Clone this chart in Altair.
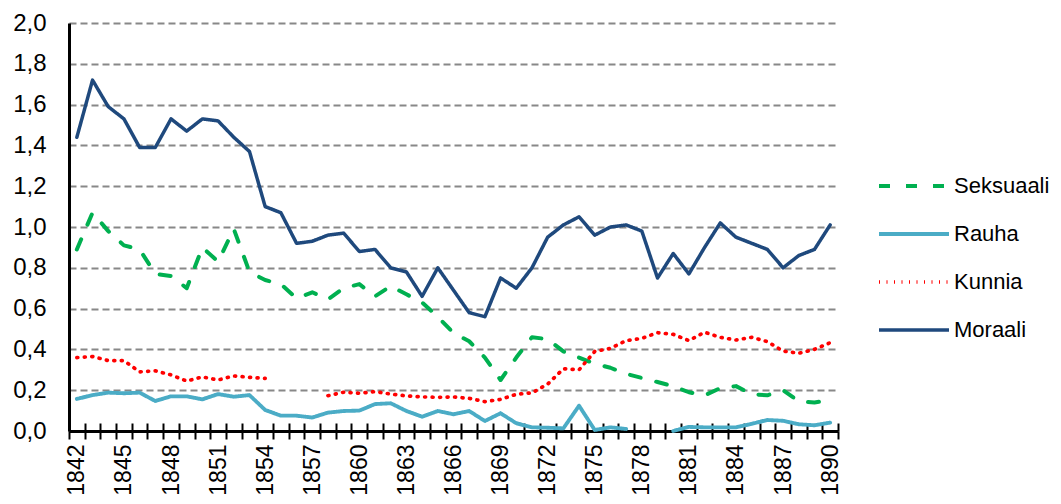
import altair as alt
import pandas as pd

years = list(range(1842, 1891))
series_names = ["Seksuaali", "Rauha", "Kunnia", "Moraali"]
series_colors = ["#00B050", "#4BACC6", "#FF0000", "#1F497D"]

seksuaali = [0.89, 1.07, 0.98, 0.91, 0.89, 0.77, 0.76, 0.70, 0.90, 0.83,
             0.99, 0.78, 0.74, 0.72, 0.65, 0.68, 0.645, 0.70, 0.72, 0.66,
             0.71, 0.67, 0.63, 0.56, 0.48, 0.44, 0.36, 0.25, 0.36, 0.46,
             0.45, 0.39, 0.36, 0.33, 0.31, 0.28, 0.26, 0.24, 0.22, 0.19,
             0.175, 0.21, 0.22, 0.18, 0.175, 0.20, 0.145, 0.14, 0.15]
rauha = [0.157, 0.176, 0.188, 0.185, 0.188, 0.147, 0.170, 0.170, 0.155, 0.181,
         0.168, 0.176, 0.103, 0.075, 0.075, 0.066, 0.090, 0.098, 0.100, 0.132,
         0.136, 0.098, 0.070, 0.098, 0.082, 0.098, 0.049, 0.087, 0.038, 0.018,
         0.016, 0.013, 0.124, 0.005, 0.018, 0.010, None, None, 0.0, 0.020,
         0.018, 0.018, 0.018, 0.035, 0.054, 0.050, 0.033, 0.028, 0.041]
kunnia = [0.36, 0.365, 0.345, 0.345, 0.29, 0.295, 0.275, 0.245, 0.265, 0.25,
          0.27, 0.263, 0.258, None, None, None, 0.173, 0.19, 0.185, 0.193,
          0.181, 0.172, 0.167, 0.165, 0.167, 0.16, 0.144, 0.155, 0.18, 0.187,
          0.23, 0.305, 0.30, 0.39, 0.405, 0.443, 0.454, 0.482, 0.474, 0.443,
          0.484, 0.459, 0.446, 0.459, 0.438, 0.392, 0.381, 0.40, 0.433]
moraali = [1.44, 1.72, 1.59, 1.53, 1.39, 1.39, 1.53, 1.47, 1.53, 1.52,
           1.44, 1.37, 1.10, 1.07, 0.92, 0.93, 0.96, 0.97, 0.88, 0.89,
           0.80, 0.78, 0.66, 0.80, 0.69, 0.58, 0.56, 0.75, 0.70, 0.80,
           0.95, 1.01, 1.05, 0.96, 1.00, 1.01, 0.98, 0.75, 0.87, 0.77,
           0.90, 1.02, 0.95, 0.92, 0.89, 0.80, 0.86, 0.89, 1.01]

y_ticks = [0.0, 0.2, 0.4, 0.6, 0.8, 1.0, 1.2, 1.4, 1.6, 1.8, 2.0]

rows = []
for name, vals in zip(series_names, [seksuaali, rauha, kunnia, moraali]):
    for yr, v in zip(years, vals):
        rows.append({"year": yr, "series": name, "value": v})
df = pd.DataFrame(rows)

FONT = "Liberation Sans"
x_scale = alt.Scale(type="band", domain=years, paddingInner=0, paddingOuter=0)
y_scale = alt.Scale(domain=[0, 2], nice=False)

legend_kw = dict(title=None, orient="none", legendX=808, legendY=126,
                 symbolType="stroke", symbolSize=4900, symbolStrokeWidth=3.5,
                 labelFontSize=22, labelFont=FONT, labelColor="black",
                 labelOffset=3, rowPadding=0, padding=0)

lines = alt.Chart(df).mark_line(strokeCap="round", strokeJoin="round",
                                invalid="break-paths-show-domains").encode(
    x=alt.X("year:O", bandPosition=0.5, scale=x_scale,
            axis=alt.Axis(title=None, orient="bottom", tickBand="extent",
                          labelExpr="(datum.value - 1842) % 3 == 0 ? '' + datum.value : ''",
                          labelAngle=270, labelFontSize=23, labelFont=FONT,
                          labelColor="black", labelPadding=5,
                          tickSize=8, tickWidth=2, tickColor="black",
                          domainColor="black", domainWidth=3, grid=False,
                          labelOverlap=False)),
    y=alt.Y("value:Q", scale=y_scale,
            axis=alt.Axis(title=None, values=y_ticks,
                          labelExpr="replace(format(datum.value, '.1f'), '.', ',')",
                          labelFontSize=24, labelFont=FONT, labelColor="black",
                          labelPadding=23, ticks=False,
                          domainColor="black", domainWidth=3,
                          grid=True, gridColor="#888888", gridWidth=2,
                          gridDash=[7, 4])),
    color=alt.Color("series:N", scale=alt.Scale(domain=series_names, range=series_colors),
                    legend=alt.Legend(**legend_kw)),
    strokeDash=alt.StrokeDash("series:N",
                              scale=alt.Scale(domain=series_names,
                                              range=[[11, 16], [1, 0], [1, 6.5], [1, 0]]),
                              legend=alt.Legend(**legend_kw)),
    strokeWidth=alt.StrokeWidth("series:N",
                                scale=alt.Scale(domain=series_names, range=[4, 3.5, 3.6, 4.5]),
                                legend=None),
)

# upper half of the crossing category ticks
ticks_up = alt.Chart(df).mark_point(opacity=0).encode(
    x=alt.X("year:O", bandPosition=0.5, scale=x_scale,
            axis=alt.Axis(title=None, orient="bottom", offset=-8, tickBand="extent",
                          labels=False, domain=False, grid=False,
                          tickSize=8, tickWidth=2, tickColor="black")),
)

chart = alt.layer(lines, ticks_up).resolve_axis(x="independent").properties(
    width=769, height=408,
    autosize=alt.AutoSizeParams(type="none"),
    padding={"left": 61, "top": 15, "right": 215, "bottom": 65},
).configure_view(stroke=None)

chart.save("out.html", embed_options={"renderer": "svg", "actions": False})
